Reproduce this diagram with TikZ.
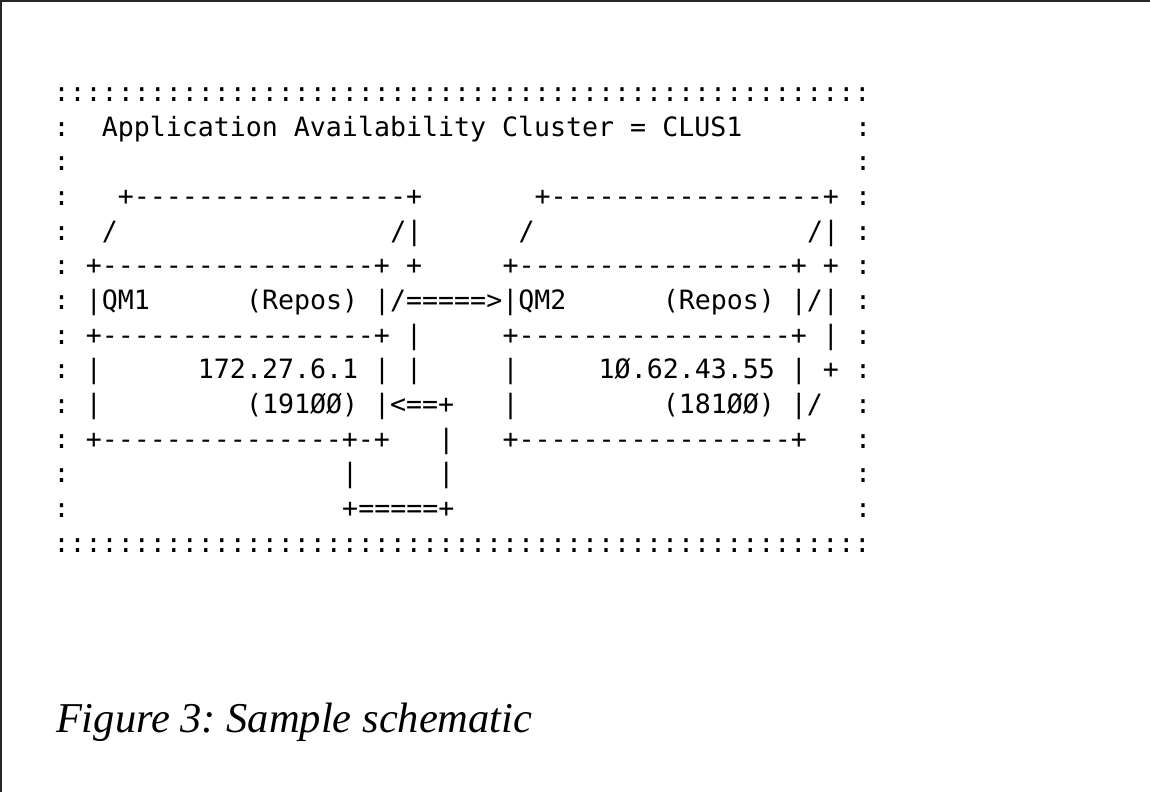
\documentclass[tikz,border=0pt]{standalone}
\usepackage{fontspec}
\setmainfont{Liberation Serif}
\setmonofont{DejaVu Sans Mono}
\begin{document}
\frenchspacing
\begin{tikzpicture}[x=1pt,y=1pt,
  mono/.style={anchor=base west, inner sep=0pt, outer sep=0pt, font=\ttfamily\fontsize{26.6}{32}\selectfont},
  capt/.style={anchor=base west, inner sep=0pt, outer sep=0pt, font=\itshape\fontsize{42.5}{50}\selectfont},
  frameline/.style={line width=2pt, black!85}]
\newcommand\seg[3]{\node[mono] (s#1-#2) at ({53.7+#2*16.03},{-(101.7+#1*34.64)}) {#3};}
\useasboundingbox (0,0) rectangle (1150,-792);
\draw[frameline] (0,-1) -- (1150,-1);
\draw[frameline] (1,0) -- (1,-792);
% row 0
\seg{0}{0}{:::::::::::::::::::::::::::::::::::::::::::::::::::}
% row 1
\seg{1}{0}{:}
\seg{1}{3}{Application Availability Cluster = CLUS1}
\seg{1}{50}{:}
% row 2
\seg{2}{0}{:}
\seg{2}{50}{:}
% row 3
\seg{3}{0}{:}
\seg{3}{4}{+-----------------+}
\seg{3}{30}{+-----------------+}
\seg{3}{50}{:}
% row 4
\seg{4}{0}{:}
\seg{4}{3}{/}
\seg{4}{21}{/|}
\seg{4}{29}{/}
\seg{4}{47}{/|}
\seg{4}{50}{:}
% row 5
\seg{5}{0}{:}
\seg{5}{2}{+-----------------+ +}
\seg{5}{28}{+-----------------+ +}
\seg{5}{50}{:}
% row 6
\seg{6}{0}{:}
\seg{6}{2}{|QM1}
\seg{6}{12}{(Repos) |/=====>|QM2}
\seg{6}{38}{(Repos) |/|}
\seg{6}{50}{:}
% row 7
\seg{7}{0}{:}
\seg{7}{2}{+-----------------+ |}
\seg{7}{28}{+-----------------+ |}
\seg{7}{50}{:}
% row 8
\seg{8}{0}{:}
\seg{8}{2}{|}
\seg{8}{9}{172.27.6.1 | |}
\seg{8}{28}{|}
\seg{8}{34}{1Ø.62.43.55 | +}
\seg{8}{50}{:}
% row 9
\seg{9}{0}{:}
\seg{9}{2}{|}
\seg{9}{12}{(191ØØ) |<==+}
\seg{9}{28}{|}
\seg{9}{38}{(181ØØ) |/}
\seg{9}{50}{:}
% row 10
\seg{10}{0}{:}
\seg{10}{2}{+---------------+-+}
\seg{10}{24}{|}
\seg{10}{28}{+-----------------+}
\seg{10}{50}{:}
% row 11
\seg{11}{0}{:}
\seg{11}{18}{|}
\seg{11}{24}{|}
\seg{11}{50}{:}
% row 12
\seg{12}{0}{:}
\seg{12}{18}{+=====+}
\seg{12}{50}{:}
% row 13
\seg{13}{0}{:::::::::::::::::::::::::::::::::::::::::::::::::::}
% caption
\node[capt] (caption) at (56,-732) {Figure 3: Sample schematic};
\end{tikzpicture}
\end{document}
